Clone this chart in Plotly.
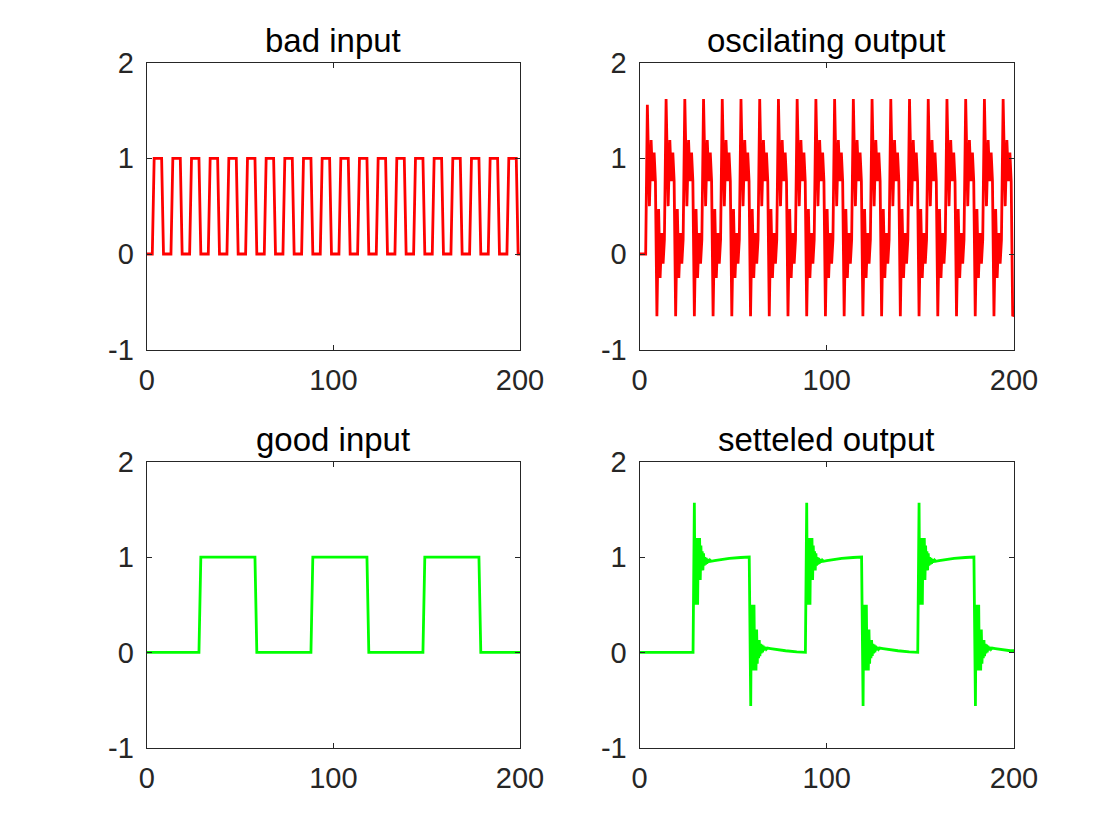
import plotly.graph_objects as go

# ---------------- data ----------------
x_ticks = [0, 100, 200]
y_ticks = [-1, 0, 1, 2]
y_tick_text = ["-1", "0", "1", "2"]

# bad input: square wave, one-step ramps (start times of rising / falling ramps)
bad_rise = [3, 13, 23, 33, 43, 53, 63, 73, 83, 93, 103, 113, 123, 133, 143, 153, 163, 173, 183, 193]
bad_fall = [8, 18, 28, 38, 48, 58, 68, 78, 88, 98, 108, 118, 128, 138, 148, 158, 168, 178, 188, 198]

# good input
good_rise = [28, 88, 148]
good_fall = [58, 118, 178]

# oscillating output: waveform of one period, as offset from each rising ramp of the bad input
osc_dt = [0.3, 1.2, 2.3, 3.2, 4.0, 4.8, 5.5, 6.3, 7.2, 8.0, 8.9, 9.6]
osc_y = [0.15, 1.62, 0.50, 1.19, 0.76, 1.06, 0.76, -0.65, 0.47, -0.25, 0.22, -0.10]
osc_first_start = 0.0   # value before first rise
osc_first_peak = 1.56   # first peak is a little lower
osc_end_y = -0.63       # value at t = 200

# settled output: response after each good-input rising ramp
set_rise_dt = [0.6, 1.3, 1.65, 2.0, 2.35, 2.7, 3.05, 3.4, 3.75, 4.1, 4.45, 4.8, 5.15, 5.5, 5.85, 6.2,
               6.55, 6.9, 7.25, 7.6, 7.95, 8.3, 8.65, 9.0, 9.35, 9.7, 10.2, 12.0, 15.0, 20.0, 26.0, 30.6]
set_rise_y = [0.0, 1.57, 0.50, 1.20, 0.50, 1.20, 0.50, 1.20, 0.76, 1.20, 0.76, 1.12, 0.86, 1.06, 0.86, 1.04,
              0.91, 1.00, 0.92, 0.99, 0.93, 0.98, 0.94, 0.975, 0.945, 0.965, 0.955, 0.962, 0.972, 0.985, 0.995, 1.0]
# settled output: response after each good-input falling ramp
set_fall_dt = [0.6, 1.4, 1.75, 2.1, 2.45, 2.8, 3.15, 3.5, 3.85, 4.2, 4.55, 4.9, 5.25, 5.6, 5.95, 6.3,
               6.65, 7.0, 7.35, 7.7, 8.05, 8.4, 8.75, 9.1, 9.45, 9.8, 10.3, 12.0, 15.0, 20.0, 26.0, 30.6]
set_fall_y = [1.0, -0.563, 0.50, -0.19, 0.50, -0.19, 0.50, -0.19, 0.24, -0.19, 0.24, -0.12, 0.13, -0.06, 0.13, -0.04,
              0.09, -0.01, 0.08, 0.0, 0.07, 0.02, 0.06, 0.025, 0.055, 0.035, 0.045, 0.04, 0.03, 0.017, 0.006, 0.0]

T_END = 200

# ---------------- build vertex lists ----------------
def square(rises, falls):
    xs, ys = [0], [0]
    for r, f in zip(rises, falls):
        xs += [r, r + 1, f, f + 1]
        ys += [0, 1, 1, 0]
    xs.append(T_END)
    ys.append(0)
    return xs, ys

bx, by = square(bad_rise, bad_fall)
gx, gy = square(good_rise, good_fall)

ox, oy = [0], [osc_first_start]
for i, r in enumerate(bad_rise):
    for j, (d, v) in enumerate(zip(osc_dt, osc_y)):
        if i == 0 and j == 0:
            v = osc_first_start
        if i == 0 and j == 1:
            v = osc_first_peak
        if r + d < T_END:
            ox.append(r + d)
            oy.append(v)
ox.append(T_END)
oy.append(osc_end_y)

sx, sy = [0], [0.0]
for r, f in zip(good_rise, good_fall):
    for d, v in zip(set_rise_dt, set_rise_y):
        sx.append(r + d); sy.append(v)
    for d, v in zip(set_fall_dt, set_fall_y):
        if f + d <= T_END:
            sx.append(f + d); sy.append(v)
if sx[-1] < T_END:
    sx.append(T_END); sy.append(sy[-1])

# ---------------- figure ----------------
W, H = 1120, 840
left_px = (146.7, 520.0)
right_px = (639.5, 1014.0)
top_px = (62.6, 349.7)
bot_px = (461.7, 747.7)

def xd(p):
    return [p[0] / W, p[1] / W]

def yd(p):
    return [1 - p[1] / H, 1 - p[0] / H]

RED = "#ff0000"
GREEN = "#00ff00"
LW = 2.8

fig = go.Figure()
panels = [
    ("x", "y", bx, by, RED, left_px, top_px, "bad input"),
    ("x2", "y2", ox, oy, RED, right_px, top_px, "oscilating output"),
    ("x3", "y3", gx, gy, GREEN, left_px, bot_px, "good input"),
    ("x4", "y4", sx, sy, GREEN, right_px, bot_px, "setteled output"),
]

FONT = "Liberation Sans, Arial, Helvetica, sans-serif"
axis_common = dict(
    showgrid=False, zeroline=False, showline=True, linecolor="#262626", linewidth=1,
    mirror="ticks", ticks="inside", ticklen=5, tickwidth=1, tickcolor="#262626",
    tickfont=dict(family=FONT, size=29, color="#262626"), automargin=False,
)

for i, (xa, ya, xs, ys, col, xp, yp, title) in enumerate(panels):
    fig.add_trace(go.Scatter(x=xs, y=ys, mode="lines", line=dict(color=col, width=LW),
                             xaxis=xa, yaxis=ya, showlegend=False, hoverinfo="skip"))
    n = "" if i == 0 else str(i + 1)
    fig.layout["xaxis" + n] = dict(axis_common, domain=xd(xp), range=[0, 200],
                                   tickvals=x_ticks, anchor=ya, ticklabelstandoff=4)
    fig.layout["yaxis" + n] = dict(axis_common, domain=yd(yp), range=[-1, 2],
                                   tickvals=y_ticks, ticktext=y_tick_text, anchor=xa,
                                   ticklabelstandoff=6)
    fig.add_annotation(text=title, x=(xp[0] + xp[1]) / 2 / W, y=1 - yp[0] / H + 2 / H,
                       xref="paper", yref="paper", xanchor="center", yanchor="bottom",
                       showarrow=False, font=dict(family=FONT, size=33, color="#000000"))

fig.update_layout(width=W, height=H, margin=dict(l=0, r=0, t=0, b=0),
                  paper_bgcolor="white", plot_bgcolor="white")

fig.write_html("out.html")
